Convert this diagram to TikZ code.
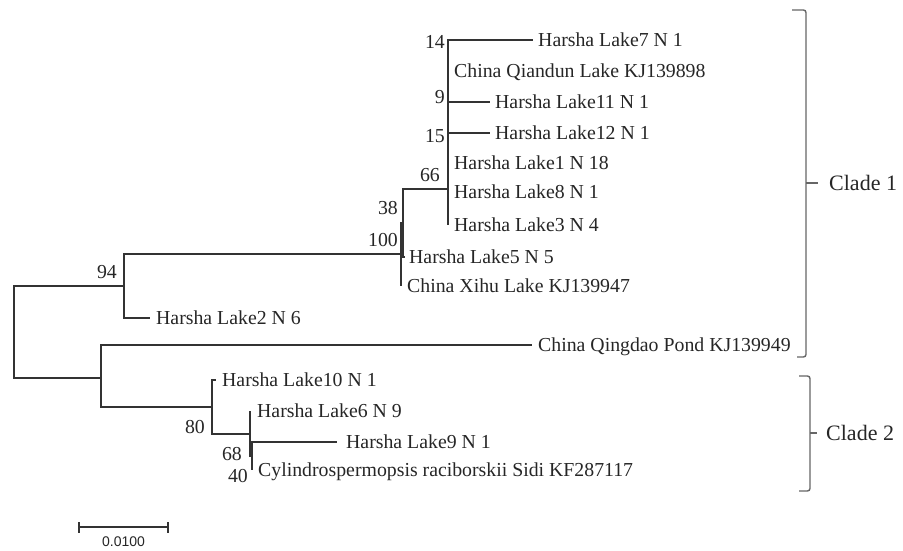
\documentclass[tikz,border=0pt]{standalone}
\usepackage{fontspec}
\setmainfont{Liberation Serif}
\newfontfamily\scalefont{Liberation Sans}
\begin{document}
\begin{tikzpicture}[x=1pt,y=-1pt,
  branch/.style={line width=1.2pt, draw=black!80},
  brack/.style={line width=1.4pt, draw=black!60, rounded corners=2.5pt},
  leaf/.style={anchor=base west, inner sep=0pt, font=\fontsize{19.8}{22}\selectfont, text=black!85},
  boot/.style={anchor=base east, inner sep=0pt, font=\fontsize{19.8}{22}\selectfont, text=black!85},
  clade/.style={anchor=base west, inner sep=0pt, font=\fontsize{22}{24}\selectfont, text=black!85}]
\useasboundingbox (0,0) rectangle (903,551);
% internal nodes
\coordinate (root) at (14,332);
\coordinate (n94) at (124,286);
\coordinate (n100) at (401,254);
\coordinate (n38) at (403,223);
\coordinate (n66) at (448,189);
\coordinate (nB) at (101,378);
\coordinate (n80) at (212,407);
\coordinate (n68) at (250,434);
\coordinate (n40) at (252,456);
% leaf ends
\coordinate (e7) at (533,40);
\coordinate (eQd) at (448,71);
\coordinate (e11) at (490,102);
\coordinate (e12) at (490,133);
\coordinate (e1) at (448,163);
\coordinate (e8) at (448,192);
\coordinate (e3) at (448,225);
\coordinate (e5) at (405,257);
\coordinate (eXh) at (401,286);
\coordinate (e2) at (150,318);
\coordinate (eQg) at (532,345);
\coordinate (e10) at (216,380);
\coordinate (e6) at (250,411);
\coordinate (e9) at (337,442);
\coordinate (eCy) at (252,470);
% branches
\draw[branch] (root) |- (n94);
\draw[branch] (root) |- (nB);
\draw[branch] (n94) |- (n100);
\draw[branch] (n94) |- (e2);
\draw[branch] (n100) |- (n38);
\draw[branch] (n100) |- (eXh);
\draw[branch] (n38) |- (n66);
\draw[branch] (n38) |- (e5);
\draw[branch] (n66) |- (e7);
\draw[branch] (n66) |- (eQd);
\draw[branch] (n66) |- (e11);
\draw[branch] (n66) |- (e12);
\draw[branch] (n66) |- (e1);
\draw[branch] (n66) |- (e8);
\draw[branch] (n66) |- (e3);
\draw[branch] (nB) |- (eQg);
\draw[branch] (nB) |- (n80);
\draw[branch] (n80) |- (e10);
\draw[branch] (n80) |- (n68);
\draw[branch] (n68) |- (e6);
\draw[branch] (n68) |- (n40);
\draw[branch] (n40) |- (e9);
\draw[branch] (n40) |- (eCy);
% leaf labels
\node[leaf] (t7) at ([xshift=5pt,yshift=-6.7pt]e7) {Harsha Lake7 N 1};
\node[leaf] (tQd) at ([xshift=6pt,yshift=-6.7pt]eQd) {China Qiandun Lake KJ139898};
\node[leaf] (t11) at ([xshift=5pt,yshift=-6.7pt]e11) {Harsha Lake11 N 1};
\node[leaf] (t12) at ([xshift=5pt,yshift=-6.7pt]e12) {Harsha Lake12 N 1};
\node[leaf] (t1) at ([xshift=6pt,yshift=-6.7pt]e1) {Harsha Lake1 N 18};
\node[leaf] (t8) at ([xshift=6pt,yshift=-6.7pt]e8) {Harsha Lake8 N 1};
\node[leaf] (t3) at ([xshift=6pt,yshift=-6.7pt]e3) {Harsha Lake3 N 4};
\node[leaf] (t5) at ([xshift=4pt,yshift=-6.7pt]e5) {Harsha Lake5 N 5};
\node[leaf] (tXh) at ([xshift=6pt,yshift=-6.7pt]eXh) {China Xihu Lake KJ139947};
\node[leaf] (t2) at ([xshift=6pt,yshift=-6.7pt]e2) {Harsha Lake2 N 6};
\node[leaf] (tQg) at ([xshift=6pt,yshift=-6.7pt]eQg) {China Qingdao Pond KJ139949};
\node[leaf] (t10) at ([xshift=6pt,yshift=-6.7pt]e10) {Harsha Lake10 N 1};
\node[leaf] (t6) at ([xshift=7pt,yshift=-6.7pt]e6) {Harsha Lake6 N 9};
\node[leaf] (t9) at ([xshift=9pt,yshift=-6.7pt]e9) {Harsha Lake9 N 1};
\node[leaf] (tCy) at ([xshift=6pt,yshift=-6.7pt]eCy) {Cylindrospermopsis raciborskii Sidi KF287117};
% bootstrap values
\node[boot] (b14) at (445,48.7) {14};
\node[boot] (b9) at (445,103.7) {9};
\node[boot] (b15) at (445,142.7) {15};
\node[boot] (b66) at (440,181.7) {66};
\node[boot] (b38) at (398,214.7) {38};
\node[boot] (b100) at (398,246.7) {100};
\node[boot] (b94) at (117,278.7) {94};
\node[boot] (b80) at (205,433.7) {80};
\node[boot] (b68) at (242,460.7) {68};
\node[boot] (b40) at (248,482.7) {40};
% clade brackets
\coordinate (c1a) at (792,10);
\coordinate (c1b) at (806,10);
\coordinate (c1c) at (806,357);
\coordinate (c1d) at (797,357);
\coordinate (c1m) at (806,183);
\coordinate (c1t) at (818,183);
\draw[brack] (c1a) -- (c1b) -- (c1c) -- (c1d);
\draw[brack] (c1m) -- (c1t);
\node[clade] (cl1) at (829,190.5) {Clade 1};
\coordinate (c2a) at (799,376);
\coordinate (c2b) at (810,376);
\coordinate (c2c) at (810,491);
\coordinate (c2d) at (799,491);
\coordinate (c2m) at (810,433);
\coordinate (c2t) at (817,433);
\draw[brack] (c2a) -- (c2b) -- (c2c) -- (c2d);
\draw[brack] (c2m) -- (c2t);
\node[clade] (cl2) at (826,440.5) {Clade 2};
% scale bar
\coordinate (s1) at (79,527);
\coordinate (s2) at (168,527);
\draw[branch] (s1) -- (s2);
\draw[branch] ([yshift=-5.5pt]s1) -- ([yshift=5.5pt]s1);
\draw[branch] ([yshift=-5.5pt]s2) -- ([yshift=5.5pt]s2);
\node[anchor=center, inner sep=0pt, font=\scalefont\fontsize{14}{16}\selectfont, text=black!85] (sl) at (123.5,542) {0.0100};
\end{tikzpicture}
\end{document}
